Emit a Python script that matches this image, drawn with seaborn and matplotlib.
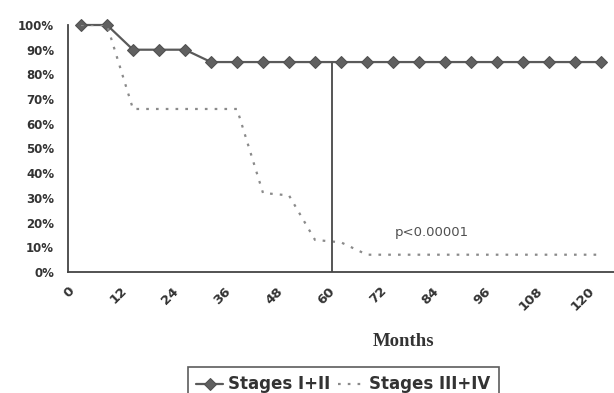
"""
Survival by stage: Stages I+II vs Stages III+IV, percent over months.
"""

import matplotlib.pyplot as plt
import numpy as np
import pandas as pd
import seaborn as sns

# Values
months = [0, 6, 12, 18, 24, 30, 36, 42, 48, 54, 60, 66, 72, 78, 84, 90, 96, 102, 108, 114, 120]
stages_early = [100, 100, 90, 90, 90, 85, 85, 85, 85, 85, 85, 85, 85, 85, 85, 85, 85, 85, 85, 85, 85]
stages_late = [100, 100, 66, 66, 66, 66, 66, 32, 31, 13, 12, 7, 7, 7, 7, 7, 7, 7, 7, 7, 7]
x_labels = [0, 12, 24, 36, 48, 60, 72, 84, 96, 108, 120]
y_ticks = [0, 10, 20, 30, 40, 50, 60, 70, 80, 90, 100]
cutoff_month = 58
p_text = "p<0.00001"

df = pd.DataFrame({"month": months, "early": stages_early, "late": stages_late})

sns.set_style("white")
fig = plt.figure(figsize=(6.14, 3.93), dpi=100)
ax = fig.add_axes([68 / 614, 1 - 272 / 393, 546 / 614, 247 / 393])

sns.lineplot(
    data=df, x="month", y="early", ax=ax, color="#5a5a5a", linewidth=1.6,
    marker="D", markersize=6, markeredgecolor="#505050", markerfacecolor="#606060",
    label="Stages I+II", clip_on=False,
)
sns.lineplot(
    data=df, x="month", y="late", ax=ax, color="#8a8a8a", linewidth=1.6,
    label="Stages III+IV",
)
ax.lines[-1].set_linestyle((0, (1.2, 3.2)))

# vertical marker line at the cutoff
ax.plot([cutoff_month, cutoff_month], [0, 85], color="#555555", linewidth=1.4)
ax.text(72.5, 16, p_text, fontsize=9.5, color="#505050", va="center")

# category-style axis: labels sit on the boundary ticks, half a step left of the points
half_step = 3
ax.set_xlim(-half_step, 123)
ax.set_ylim(0, 100)
ax.set_yticks(y_ticks)
ax.set_yticklabels([f"{v}%" for v in y_ticks], fontsize=8.5, fontweight="bold", color="#333333")
ax.set_xticks([v - half_step for v in x_labels])
ax.set_xticklabels([str(v) for v in x_labels], rotation=45, ha="right", va="top",
                   rotation_mode="anchor", fontsize=9.5, fontweight="bold", color="#333333")
ax.set_xticks(np.arange(3, 124, 12), minor=True)
ax.tick_params(axis="x", which="both", length=4, width=1.1, color="#444444", direction="out")
ax.tick_params(axis="x", which="major", pad=5)
ax.tick_params(axis="y", length=4, width=1.1, color="#444444", direction="out", pad=6)
ax.set_xlabel("")
ax.set_ylabel("")
sns.despine(ax=ax)
for s in ("left", "bottom"):
    ax.spines[s].set_color("#444444")
    ax.spines[s].set_linewidth(1.3)

fig.text(404 / 614, 1 - 342 / 393, "Months", family="Liberation Serif", fontweight="bold",
         fontsize=13.5, color="#333333", ha="center", va="center")

ax.get_legend().remove()
handles, labels = ax.get_legend_handles_labels()
leg = fig.legend(handles, labels, loc="upper left", bbox_to_anchor=(188 / 614, 1 - 367 / 393),
                 borderaxespad=0, ncol=2, frameon=True, fancybox=False, edgecolor="#333333",
                 handlelength=1.6, handletextpad=0.3, columnspacing=0.45, borderpad=0.5,
                 prop={"weight": "bold", "size": 12})
leg.get_frame().set_linewidth(1.2)
for t in leg.get_texts():
    t.set_color("#333333")

fig.savefig("out.png", dpi=100)
